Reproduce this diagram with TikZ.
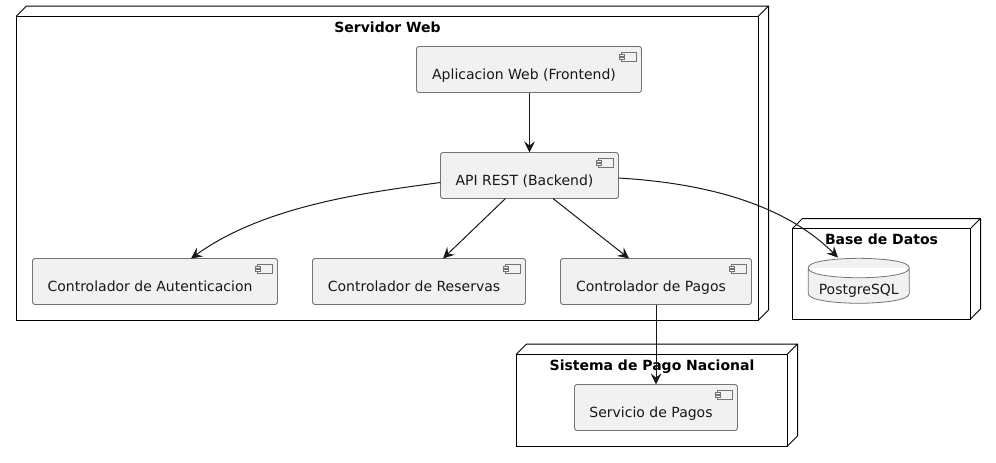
\documentclass[tikz,border=0pt]{standalone}
\usepackage{fontspec}
\setmainfont{DejaVu Sans}
\usetikzlibrary{arrows.meta}
\definecolor{compfill}{HTML}{F1F1F1}
\definecolor{ink}{HTML}{181818}
\tikzset{
  x=0.75pt,y=-0.75pt,
  comp/.style 2 args={draw=ink!60,line width=0.7pt,fill=compfill,rounded corners=1.9pt,
    inner xsep=0pt,inner ysep=0pt,outer sep=0pt,minimum width=#1*0.75pt,
    text height=#2*0.75pt,text depth=(46-#2)*0.75pt,text=ink,font=\fontsize{10.5pt}{12pt}\selectfont},
  nodebox/.style n args={3}{draw=black,line width=0.75pt,inner xsep=0pt,inner ysep=0pt,outer sep=0pt,
    minimum width=#1*0.75pt,text height=#3*0.75pt,text depth=(#2-#3)*0.75pt,
    font=\fontsize{10.5pt}{12pt}\selectfont\bfseries},
  nodeedge/.style={draw=black,line width=0.75pt},
  iconline/.style={draw=ink!60,line width=0.5pt,fill=compfill},
  link/.style={draw=ink,line width=0.75pt,-{Stealth[length=8.25pt,width=8pt,inset=3pt]}},
}
\newcommand{\threed}[1]{%
  \draw[nodeedge] (#1.north west) -- ++(10,-10) -- ([shift={(10,-10)}]#1.north east) -- ([shift={(10,-10)}]#1.south east) -- (#1.south east)
    (#1.north east) -- ++(10,-10);}
\newcommand{\compicon}[1]{%
  \draw[iconline] ([shift={(-20,5.5)}]#1.north east) rectangle ([shift={(-5,15)}]#1.north east);
  \draw[iconline] ([shift={(-22,7.5)}]#1.north east) rectangle ([shift={(-17.5,9.5)}]#1.north east);
  \draw[iconline] ([shift={(-22,11)}]#1.north east) rectangle ([shift={(-17.5,13)}]#1.north east);}
\begin{document}
\begin{tikzpicture}
\useasboundingbox (0,0) rectangle (996,462);
\fill[white] (0,0) rectangle (996,462);
% deployment nodes
\node[nodebox={742}{304}{16}] (srv) at (387.5,168) {Servidor Web};
\threed{srv}
\node[nodebox={178}{90.5}{15.5}] (bd) at (881.5,273.75) {Base de Datos};
\threed{bd}
\node[nodebox={271}{92}{16}] (pago) at (652,400) {Sistema de Pago Nacional};
\threed{pago}
% components
\node[comp={225}{33}] (front) at (529,69.5) {Aplicacion Web (Frontend)\kern7.5pt};
\compicon{front}
\node[comp={178}{33}] (api) at (529.5,175.5) {API REST (Backend)\kern7.5pt};
\compicon{api}
\node[comp={245}{33}] (auth) at (155,281.5) {Controlador de Autenticacion\kern7.5pt};
\compicon{auth}
\node[comp={213}{33}] (res) at (419,281.5) {Controlador de Reservas\kern7.5pt};
\compicon{res}
\node[comp={191}{33}] (pag) at (656,281.5) {Controlador de Pagos\kern7.5pt};
\compicon{pag}
\node[comp={163}{33}] (serv) at (656,407.5) {Servicio de Pagos\kern7.5pt};
\compicon{serv}
% database
\coordinate (dbc) at (858.75,280.8);
\draw[shift={(dbc)},draw=ink!60,line width=0.6pt,fill=compfill]
  (-50.5,-13) .. controls (-50.5,-22.5) and (0,-22.5) .. (0,-22.5) .. controls (0,-22.5) and (50.5,-22.5) .. (50.5,-13)
  -- (50.5,12.5) .. controls (50.5,22.5) and (0,22.5) .. (0,22.5) .. controls (0,22.5) and (-50.5,22.5) .. (-50.5,12.5) -- cycle
  (-50.5,-13) .. controls (-50.5,-3) and (0,-3) .. (0,-3) .. controls (0,-3) and (50.5,-3) .. (50.5,-13);
\node[inner sep=0pt,text=ink,minimum width=101*0.75pt,text height=36.5*0.75pt,text depth=9.5*0.75pt,font=\fontsize{10.5pt}{12pt}\selectfont] (db) at (dbc) {PostgreSQL};
% connectors
\draw[link] (front.south -| api.north) -- (api.north);
\draw[link] ([shift={(0,7)}]api.west) .. controls (370,192) and (265,205) .. ([shift={(36,0)}]auth.north);
\draw[link] ([shift={(-24,0)}]api.south) -- ([shift={(24,0)}]res.north);
\draw[link] ([shift={(23.5,0)}]api.south) -- ([shift={(-27,0)}]pag.north);
\draw[link] ([shift={(0,2.5)}]api.east) .. controls (720,184) and (790,210) .. ([shift={(-20.75,0)}]db.north);
\draw[link] (pag.south) -- (serv.north);
\end{tikzpicture}
\end{document}
